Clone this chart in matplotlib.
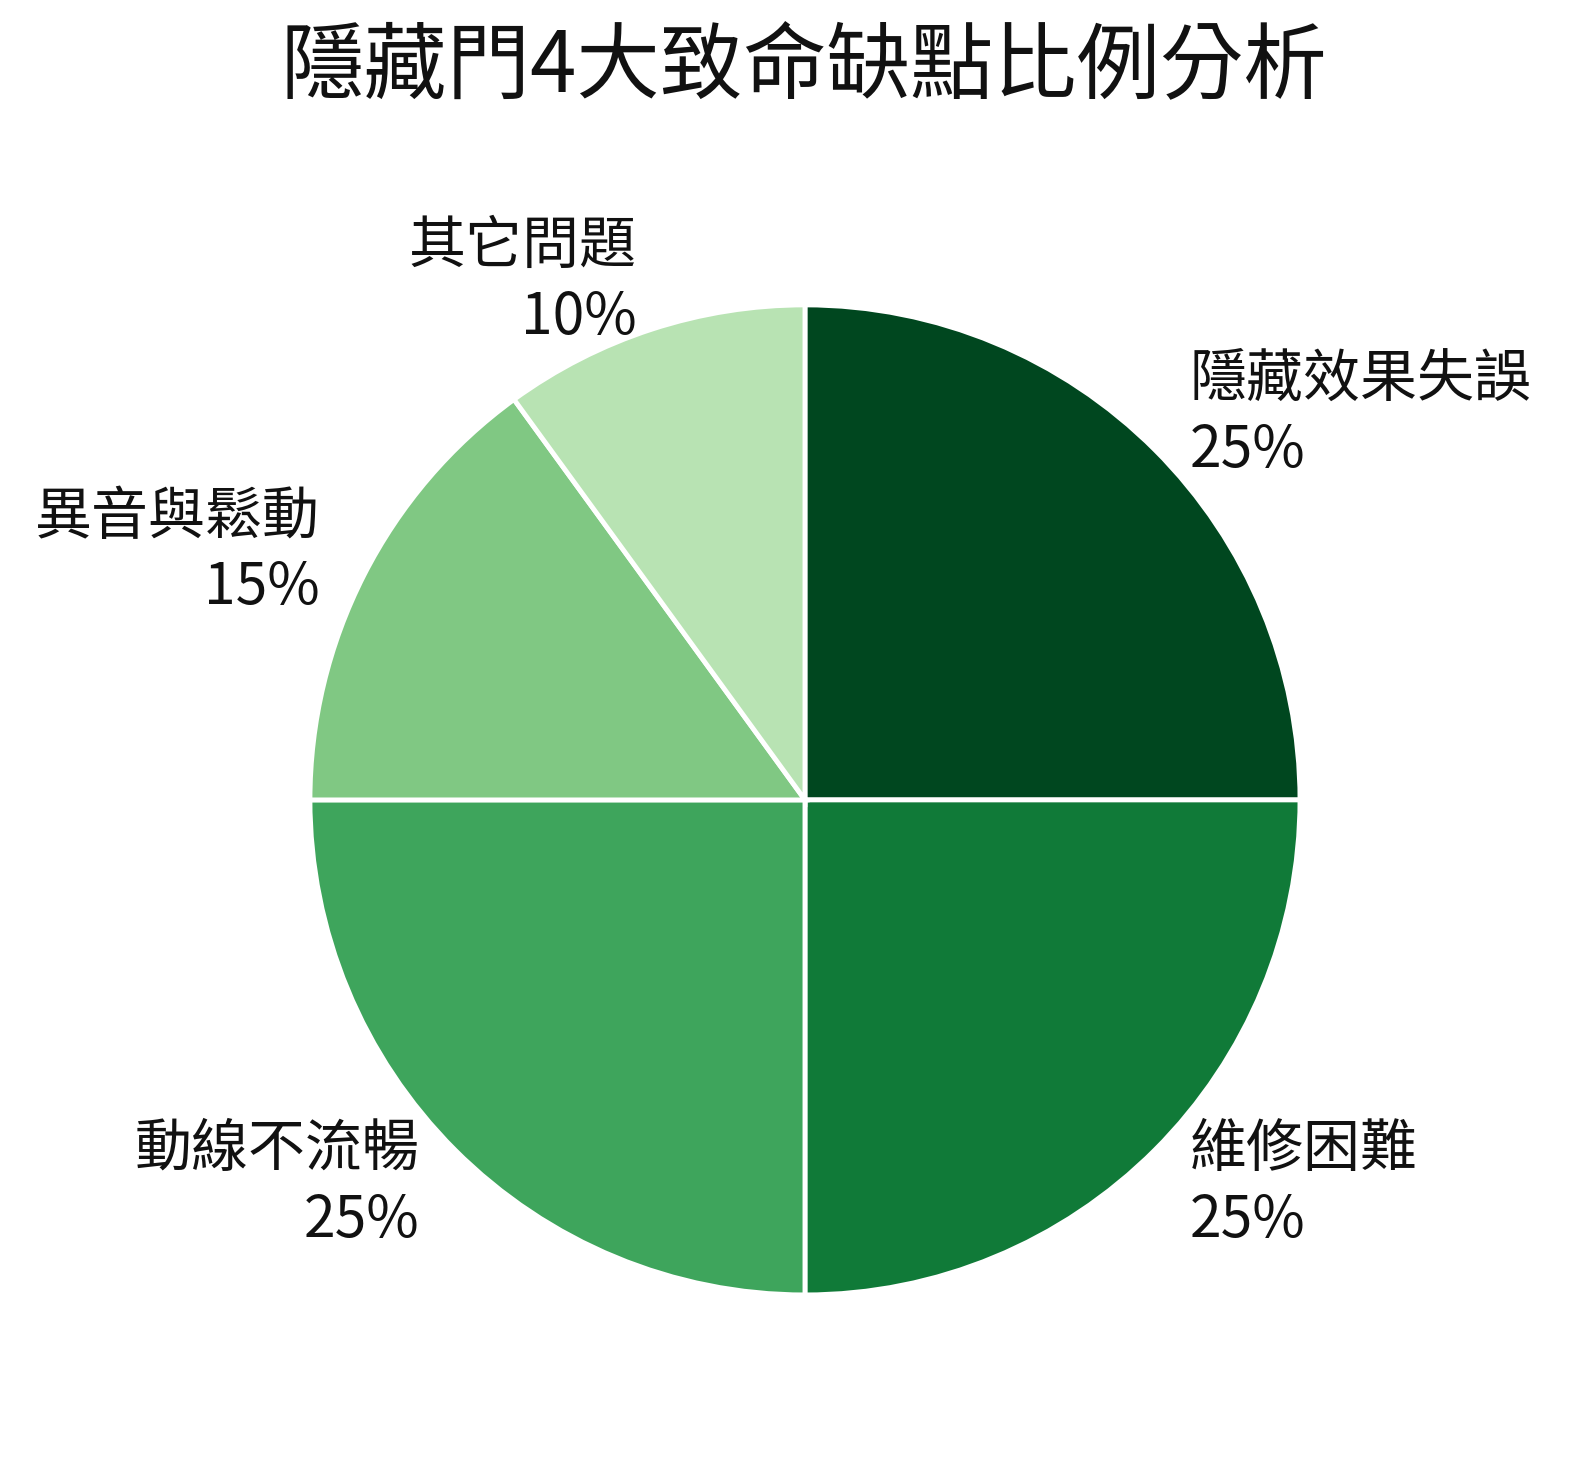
import matplotlib
matplotlib.use("Agg")
import matplotlib.pyplot as plt

plt.rcParams['font.family'] = ['Noto Sans CJK TC', 'DejaVu Sans']

labels = ['隱藏效果失誤', '維修困難', '動線不流暢', '異音與鬆動', '其它問題']
values = [25, 25, 25, 15, 10]
colors = ['#00471f', '#107a38', '#3ea55c', '#80c883', '#b8e3b3']

fig = plt.figure(figsize=(15.86, 14.68), dpi=100)
ax = fig.add_axes([0.1174, 0.0336, 0.7803, 0.843])

texts = [f'{n}\n{v}%' for n, v in zip(labels, values)]
wedges, txts = ax.pie(values, labels=texts, colors=colors, startangle=90,
                      counterclock=False, labeldistance=1.1,
                      wedgeprops=dict(edgecolor='white', linewidth=3.5),
                      textprops=dict(fontsize=41, color='#111111', linespacing=1.27))
for t in txts:
    t.set_va('center')
ax.set_aspect('equal')

fig.text(0.507, 1 - 67 / 1468, '隱藏門4大致命缺點比例分析', ha='center', va='center',
         fontsize=60, color='#111111')

fig.savefig('out.png', dpi=100, facecolor='white')
